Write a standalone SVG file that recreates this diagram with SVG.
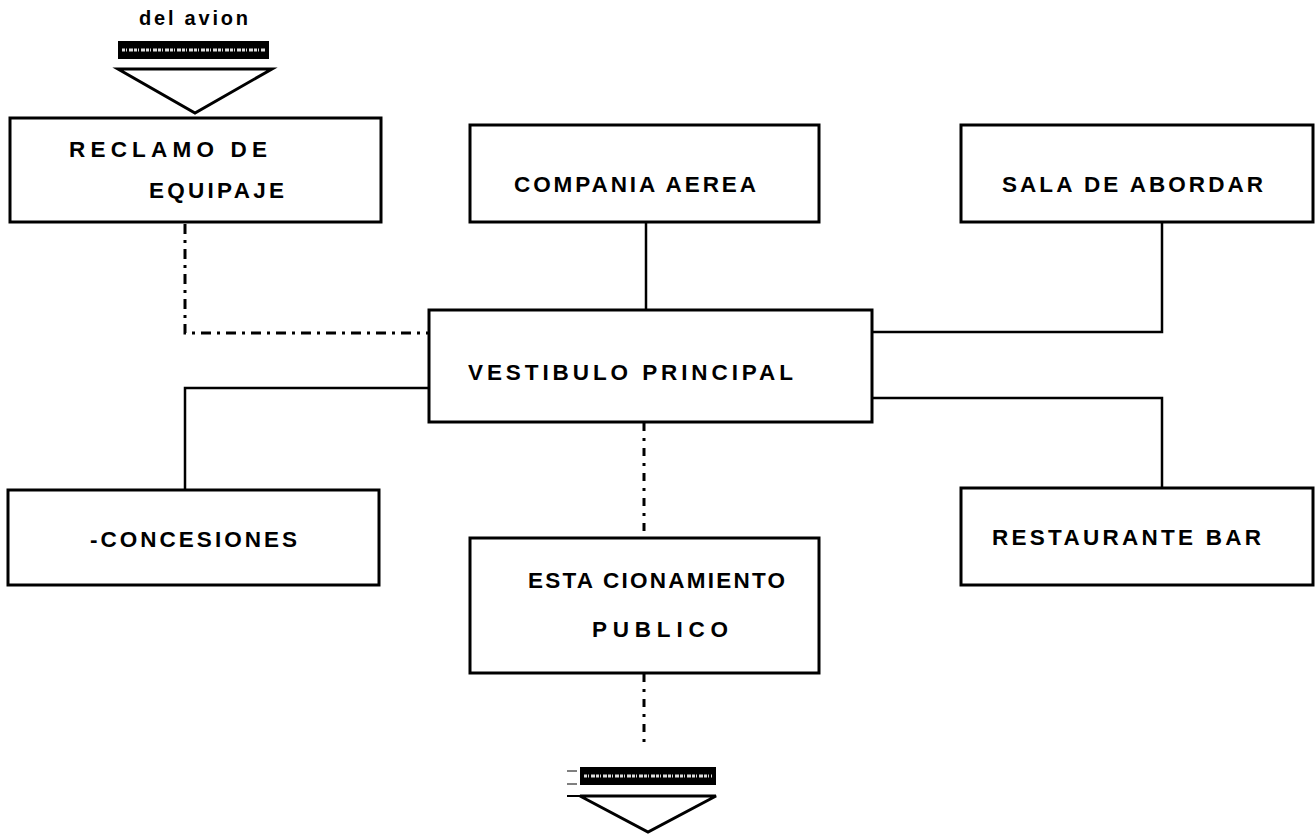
<svg xmlns="http://www.w3.org/2000/svg" width="1315" height="840" viewBox="0 0 1315 840">
<style>
.box{fill:#fff;stroke:#000;stroke-width:3;}
.lbl{font-family:"Liberation Sans",Arial,sans-serif;font-weight:bold;font-size:22.5px;fill:#000;}
.small{font-family:"Liberation Sans",Arial,sans-serif;font-weight:bold;font-size:20px;fill:#000;}
.con{fill:none;stroke:#000;stroke-width:2.5;}
.dashdot{stroke-width:3;stroke-dasharray:10 6 3 6;}
.dotted{stroke-width:3;stroke-dasharray:8 7 3 7;}
.bar{fill:#000;}
.barin{stroke:#ddd;stroke-width:3;stroke-dasharray:3 1 1 2 4 1;}
.tri{fill:none;stroke:#000;stroke-width:3;stroke-linejoin:miter;}
</style>
<rect width="1315" height="840" fill="#fff"/>
<g id="connectors">
<path class="con dashdot" d="M185,224 V333 H429"/>
<path class="con" d="M646,222 V310"/>
<path class="con" d="M1162,222 V332 H872"/>
<path class="con" d="M872,398 H1162 V488"/>
<path class="con" d="M429,388 H185 V490"/>
<path class="con dotted" d="M644,423 V538"/>
<path class="con dotted" d="M644,674 V748"/>
</g>
<g id="entrada">
<text class="small" x="139" y="25" textLength="109" lengthAdjust="spacing">del  avion</text>
<rect class="bar" x="118" y="41" width="151" height="18"/>
<line class="barin" x1="122" y1="50" x2="265" y2="50"/>
<path class="tri" d="M118,69 H272 L195,113 Z"/>
</g>
<g id="reclamo">
<rect class="box" x="10" y="118" width="371" height="104"/>
<text class="lbl" x="69" y="157" textLength="198" lengthAdjust="spacing">RECLAMO  DE</text>
<text class="lbl" x="149" y="198" textLength="135" lengthAdjust="spacing">EQUIPAJE</text>
</g>
<g id="compania">
<rect class="box" x="470" y="125" width="349" height="97"/>
<text class="lbl" x="514" y="192" textLength="242" lengthAdjust="spacing">COMPANIA  AEREA</text>
</g>
<g id="sala">
<rect class="box" x="961" y="125" width="352" height="97"/>
<text class="lbl" x="1002" y="192" textLength="261" lengthAdjust="spacing">SALA  DE  ABORDAR</text>
</g>
<g id="vestibulo">
<rect class="box" x="429" y="310" width="443" height="112"/>
<text class="lbl" x="468" y="380" textLength="325" lengthAdjust="spacing">VESTIBULO  PRINCIPAL</text>
</g>
<g id="concesiones">
<rect class="box" x="8" y="490" width="371" height="95"/>
<text class="lbl" x="90" y="547" textLength="207" lengthAdjust="spacing">-CONCESIONES</text>
</g>
<g id="restaurante">
<rect class="box" x="961" y="488" width="352" height="97"/>
<text class="lbl" x="992" y="545" textLength="269" lengthAdjust="spacing">RESTAURANTE   BAR</text>
</g>
<g id="estacionamiento">
<rect class="box" x="470" y="538" width="349" height="135"/>
<text class="lbl" x="528" y="588" textLength="257" lengthAdjust="spacing">ESTA CIONAMIENTO</text>
<text class="lbl" x="592" y="637" textLength="136" lengthAdjust="spacing">PUBLICO</text>
</g>
<g id="salida">
<line x1="567" y1="771" x2="577" y2="771" stroke="#000" stroke-width="1"/>
<line x1="567" y1="784" x2="577" y2="784" stroke="#000" stroke-width="1"/>
<rect class="bar" x="580" y="767" width="136" height="18"/>
<line class="barin" x1="584" y1="776" x2="712" y2="776"/>
<line x1="567" y1="796" x2="580" y2="796" stroke="#000" stroke-width="2"/>
<path class="tri" d="M580,796 H716 L648,832 Z"/>
</g>
</svg>
